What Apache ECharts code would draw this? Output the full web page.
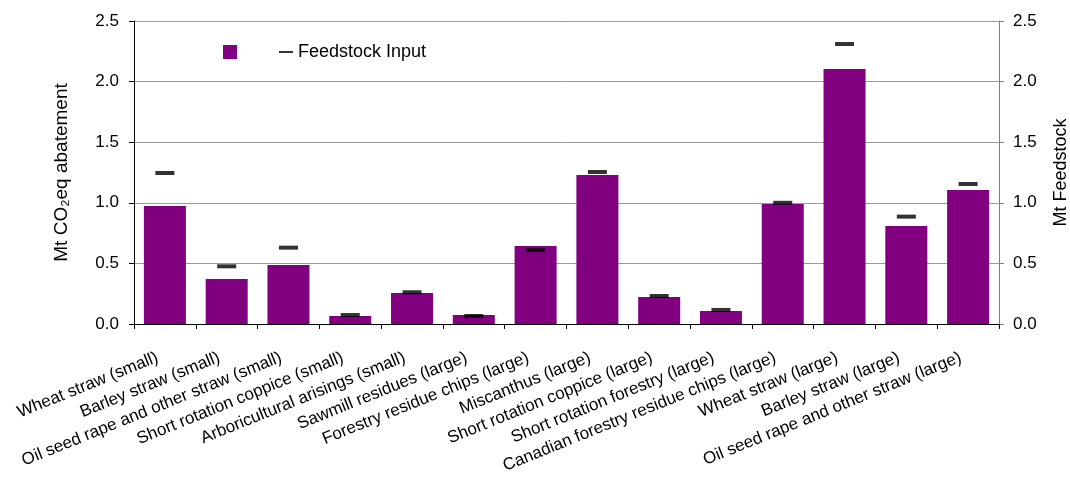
<!DOCTYPE html>
<html>
<head>
<meta charset="utf-8">
<script src="https://cdn.jsdelivr.net/npm/echarts@6/dist/echarts.min.js"></script>
<style>html,body{margin:0;padding:0;background:#fff}#c{width:1070px;height:477px}</style>
</head>
<body>
<div id="c"></div>
<script>
const categories = [
  "Wheat straw (small)", "Barley straw (small)", "Oil seed rape and other straw (small)",
  "Short rotation coppice (small)", "Arboricultural arisings (small)", "Sawmill residues (large)",
  "Forestry residue chips (large)", "Miscanthus (large)", "Short rotation coppice (large)",
  "Short rotation forestry (large)", "Canadian forestry residue chips (large)", "Wheat straw (large)",
  "Barley straw (large)", "Oil seed rape and other straw (large)"
];
const abatement = [0.974, 0.371, 0.487, 0.066, 0.256, 0.074, 0.644, 1.23, 0.223, 0.107, 0.99, 2.104, 0.809, 1.106];
const feedstock = [1.246, 0.476, 0.63, 0.074, 0.262, 0.066, 0.61, 1.254, 0.231, 0.116, 1.0, 2.31, 0.886, 1.155];
const yTicks = [0, 0.5, 1.0, 1.5, 2.0, 2.5];

const FONT = "Liberation Sans, Arial, sans-serif";
const chart = echarts.init(document.getElementById('c'));
chart.setOption({
  animation: false,
  textStyle: { fontFamily: FONT },
  grid: { left: 134, right: 71, top: 21, bottom: 153, outerBoundsMode: 'none', containLabel: false },
  legend: [
    { data: [' '], left: 223, top: 43, padding: 0, itemWidth: 14, itemHeight: 14, icon: 'rect',
      textStyle: { fontSize: 18, color: '#000', fontFamily: FONT } },
    { data: ['Feedstock Input'], left: 279, top: 43, padding: 0, itemWidth: 14, itemHeight: 2, icon: 'rect',
      textStyle: { fontSize: 18, color: '#000', fontFamily: FONT } }
  ],
  xAxis: {
    type: 'category', data: categories,
    axisLine: { lineStyle: { color: '#000', width: 1 } },
    axisTick: { show: true, length: 5, lineStyle: { color: '#000' } },
    axisLabel: { interval: 0, rotate: 22, fontSize: 17, color: '#000', fontFamily: FONT, margin: 30,
      padding: [0, 8, 0, 0] }
  },
  yAxis: [
    { type: 'value', min: yTicks[0], max: yTicks[yTicks.length - 1], interval: 0.5,
      name: 'Mt CO₂eq abatement', nameLocation: 'middle', nameGap: 63,
      nameTextStyle: { fontSize: 19, color: '#000', fontFamily: FONT },
      axisLine: { show: true, lineStyle: { color: '#000' } },
      axisTick: { show: true, length: 5, lineStyle: { color: '#000' } },
      axisLabel: { fontSize: 17, color: '#000', fontFamily: FONT, margin: 15, formatter: v => v.toFixed(1) },
      splitLine: { show: true, lineStyle: { color: '#999', width: 1 } } },
    { type: 'value', min: yTicks[0], max: yTicks[yTicks.length - 1], interval: 0.5, position: 'right',
      name: 'Mt Feedstock', nameLocation: 'middle', nameGap: 53,
      nameTextStyle: { fontSize: 18, color: '#000', fontFamily: FONT },
      axisLine: { show: true, lineStyle: { color: '#808080' } },
      axisTick: { show: true, length: 5, lineStyle: { color: '#808080' } },
      axisLabel: { fontSize: 17, color: '#000', fontFamily: FONT, margin: 14, formatter: v => v.toFixed(1) },
      splitLine: { show: false } }
  ],
  series: [
    { name: ' ', type: 'bar', data: abatement, barCategoryGap: '32%',
      itemStyle: { color: '#800080' } },
    { name: 'Feedstock Input', type: 'scatter', yAxisIndex: 1, data: feedstock,
      symbol: 'rect', symbolSize: [19, 4], itemStyle: { color: '#000' }, z: 5 }
  ]
});
</script>
</body>
</html>
